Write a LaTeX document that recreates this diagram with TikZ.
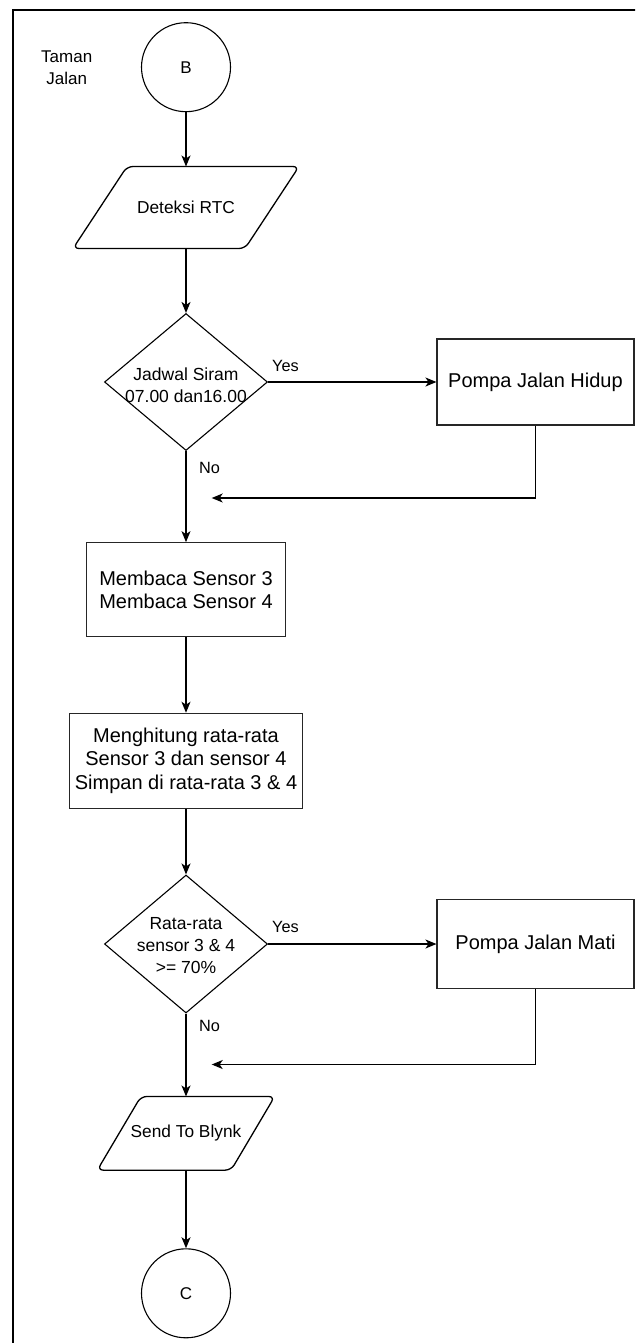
\documentclass[tikz,border=0pt]{standalone}
\usepackage{fontspec}
\setmainfont{Liberation Sans}
\usetikzlibrary{shapes.geometric,arrows.meta}
\tikzset{
 conn/.style={draw=black, line width=1.2pt},
 arr/.style={conn, -{Stealth[length=11pt,width=9pt,inset=3pt]}},
 term/.style={circle, draw, line width=1.1pt, minimum size=89pt, inner sep=0pt, font=\fontsize{17}{20}\selectfont},
 proc/.style={rectangle, draw=black!85, line width=1.1pt, inner sep=0pt, align=center, font=\fontsize{20}{23.5}\selectfont},
 dec/.style={diamond, draw, line width=1.1pt, inner sep=0pt},
 dectext/.style={align=center, inner sep=0pt, font=\fontsize{17.5}{22}\selectfont},
 iobox/.style={rectangle, draw=none, inner sep=0pt, align=center, font=\fontsize{17.3}{20}\selectfont},
 iopath/.style={draw, line width=1.3pt, rounded corners=6pt},
 lbl/.style={inner sep=0pt, font=\fontsize{16.3}{19}\selectfont},
 frame/.style={draw=black, line width=2.2pt},
}
\begin{document}
\begin{tikzpicture}[x=1pt, y=-1pt]
\clip (0,0) rectangle (635,1343);
\fill[white] (0,0) rectangle (635,1343);
\draw[frame] (13.3,1360) -- (13.3,10) -- (660,10);

\node[align=center, inner sep=0pt, font=\fontsize{17}{21.5}\selectfont] (title) at (66.7,67.5) {Taman\\Jalan};
\node[term] (B) at (186,67.2) {B};
\node[iobox, minimum width=225.6pt, minimum height=81.6pt] (rtc) at (186,207.5) {Deteksi RTC};
\node[dec, minimum width=163pt, minimum height=137pt] (d1) at (186,382) {};
\node[dectext] (d1t) at (186,385) {Jadwal Siram\\07.00 dan16.00};
\node[proc, minimum width=197pt, minimum height=86pt] (hidup) at (535.5,382) {Pompa Jalan Hidup};
\node[proc, minimum width=199pt, minimum height=94pt] (baca) at (186,589.7) {Membaca Sensor 3\\Membaca Sensor 4};
\node[proc, minimum width=233pt, minimum height=95pt] (hitung) at (186,760.8) {Menghitung rata-rata\\Sensor 3 dan sensor 4\\Simpan di rata-rata 3 \& 4};
\node[dec, minimum width=163pt, minimum height=138pt] (d2) at (186,944) {};
\node[dectext] (d2t) at (186,946) {Rata-rata\\sensor 3 \& 4\\>= 70\%};
\node[proc, minimum width=197pt, minimum height=89pt] (mati) at (535.5,944) {Pompa Jalan Mati};
\node[iobox, minimum width=177pt, minimum height=73.3pt] (blynk) at (186,1133.3) {Send To Blynk};
\node[term] (C) at (186,1293.3) {C};

\draw[iopath] ([xshift=54pt]rtc.north west) -- (rtc.north east) -- ([xshift=-54pt]rtc.south east) -- (rtc.south west) -- cycle;
\draw[iopath] ([xshift=43.6pt]blynk.north west) -- (blynk.north east) -- ([xshift=-43.6pt]blynk.south east) -- (blynk.south west) -- cycle;

\node[lbl] (yes1) at (285.5,366) {Yes};
\node[lbl] (no1) at (209.5,468) {No};
\node[lbl] (yes2) at (285.5,926.5) {Yes};
\node[lbl] (no2) at (209.5,1025.5) {No};

\coordinate (r1) at (211.7,498);
\coordinate (r2) at (211.7,1064.5);

\draw[arr] (B.south) -- (B.south |- rtc.north);
\draw[arr] (rtc.south) -- (d1.north);
\draw[arr] (d1.east) -- (hidup.west);
\draw[arr] (hidup.south) |- (r1);
\draw[arr] (d1.south) -- (baca.north);
\draw[arr] (baca.south) -- (hitung.north);
\draw[arr] (hitung.south) -- (d2.north);
\draw[arr] (d2.east) -- (mati.west);
\draw[arr] (mati.south) |- (r2);
\draw[arr] (d2.south) -- (blynk.north);
\draw[arr] (blynk.south) -- (C.north);
\end{tikzpicture}
\end{document}
